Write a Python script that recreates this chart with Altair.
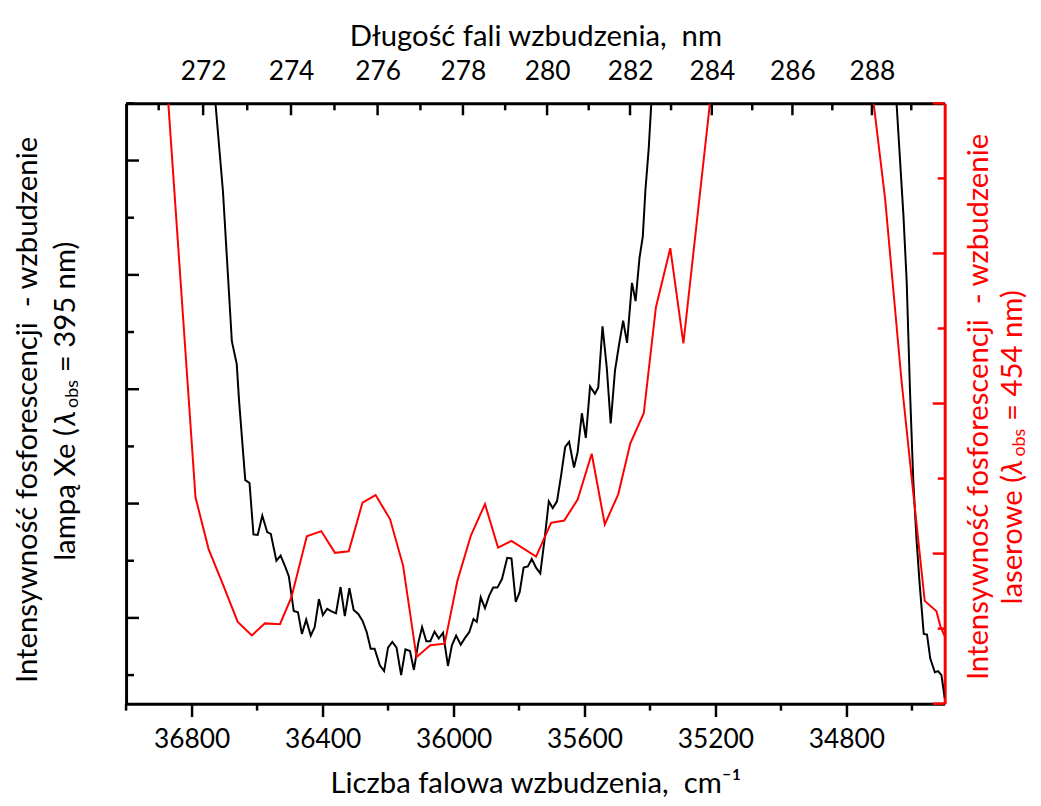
import altair as alt
import pandas as pd

# ---- data ----
# Black: Xe-lamp excitation (left axis, arbitrary units)
BLACK_A_WN = [36727, 36704, 36677, 36662, 36655, 36636, 36623, 36611, 36598, 36584,
              36569, 36558, 36541, 36528, 36515, 36503, 36488, 36475, 36463, 36450,
              36436, 36424, 36411, 36399, 36386, 36374, 36359, 36345, 36332, 36318,
              36305, 36291, 36278, 36265, 36253, 36241, 36225, 36212, 36200, 36187,
              36174, 36160, 36147, 36133, 36121, 36108, 36096, 36083, 36071, 36058,
              36045, 36032, 36017, 36005, 35992, 35978, 35965, 35952, 35939, 35929,
              35917, 35904, 35891, 35879, 35866, 35852, 35836, 35823, 35810, 35798,
              35786, 35773, 35761, 35748, 35735, 35722, 35709, 35697, 35684, 35672,
              35659, 35647, 35632, 35621, 35608, 35596, 35583, 35568, 35558, 35545,
              35532, 35520, 35507, 35495, 35482, 35470, 35455, 35444, 35432, 35422,
              35414, 35404, 35396]
BLACK_A_I = [10.0, 8.45, 5.84, 5.44, 4.80, 3.41, 3.36, 2.46, 2.45, 2.79,
             2.50, 2.47, 2.00, 2.09, 1.91, 1.73, 1.12, 1.10, 0.72, 0.97,
             0.69, 0.84, 1.33, 1.05, 1.16, 1.12, 1.08, 1.54, 1.03, 1.52,
             1.14, 1.07, 0.95, 0.75, 0.46, 0.46, 0.17, 0.07, 0.48, 0.58,
             0.48, 0.0, 0.45, 0.42, 0.09, 0.55, 0.84, 0.59, 0.59, 0.76,
             0.64, 0.74, 0.16, 0.52, 0.69, 0.53, 0.65, 0.75, 0.98, 0.93,
             1.36, 1.17, 1.39, 1.53, 1.53, 1.68, 2.05, 2.04, 1.28, 1.45,
             1.88, 1.90, 2.03, 1.88, 1.78, 2.37, 3.04, 2.92, 3.04, 3.47,
             3.99, 4.08, 3.63, 3.90, 4.58, 4.15, 5.05, 4.92, 5.03, 6.10,
             5.38, 4.40, 5.32, 5.76, 6.20, 5.81, 6.86, 6.54, 7.30, 7.67,
             8.48, 9.20, 10.0]
BLACK_B_WN = [34647, 34626, 34616, 34606, 34596, 34586, 34576, 34564, 34554, 34544,
              34530, 34520, 34510, 34500]
BLACK_B_I = [10.0, 8.04, 6.88, 4.98, 3.41, 2.37, 1.56, 0.72, 0.71, 0.29,
             0.05, 0.07, 0.0, -0.4]

# Red: laser excitation (right axis, arbitrary units)
RED_A_WN = [36871, 36788, 36748, 36707, 36659, 36616, 36576, 36530, 36495, 36448,
            36404, 36362, 36320, 36278, 36238, 36194, 36154, 36113, 36071, 36027,
            35988, 35947, 35904, 35864, 35823, 35748, 35702, 35662, 35621, 35578,
            35538, 35497, 35460, 35419, 35382, 35338, 35298, 35217]
RED_A_I = [8.0, 2.75, 2.06, 1.62, 1.09, 0.91, 1.07, 1.06, 1.42, 2.23,
           2.30, 2.01, 2.03, 2.68, 2.78, 2.46, 1.84, 0.62, 0.78, 0.80,
           1.64, 2.24, 2.66, 2.08, 2.17, 1.96, 2.41, 2.44, 2.72, 3.33,
           2.39, 2.79, 3.47, 3.87, 5.28, 6.07, 4.80, 8.0]
RED_B_WN = [34717, 34682, 34632, 34596, 34561, 34525, 34513, 34500]
RED_B_I = [8.0, 6.73, 4.31, 2.81, 1.37, 1.23, 1.03, 0.90]

# axis ticks / labels
BOTTOM_MAJOR = [36800, 36400, 36000, 35600, 35200, 34800]
BOTTOM_MINOR = [37000, 36600, 36200, 35800, 35400, 35000, 34600]
TOP_NM_MAJOR = [272, 274, 276, 278, 280, 282, 284, 286, 288]
TOP_NM_MINOR = [271, 273, 275, 277, 279, 281, 283, 285, 287, 289]
LEFT_MAJOR = [1, 3, 5, 7, 9]
LEFT_MINOR = [0, 2, 4, 6, 8, 10]
RIGHT_MAJOR = [0, 2, 4, 6, 8]
RIGHT_MINOR = [1, 3, 5, 7]

TITLE_TOP = "Długość fali wzbudzenia,\u00a0 nm"
TITLE_BOTTOM = "Liczba falowa wzbudzenia,\u00a0 cm\u207b\u00b9"
LEFT_LINE1 = "Intensywność fosforescencji\u00a0 - wzbudzenie"
LEFT_LINE2 = ["lampą Xe (", "λ", "obs", "= 395 nm)"]
RIGHT_LINE1 = "Intensywność fosforescencji\u00a0 - wzbudzenie"
RIGHT_LINE2 = ["laserowe (", "λ", "obs", "= 454 nm)"]

# ---- styling ----
W, H = 825, 605
FONT = "Lato"
FS = 26.5      # tick labels
TFS = 29.5     # titles
SUB_FS = 18
RED = "#ff0000"

x_scale = alt.Scale(domain=[34500, 37000], reverse=True, nice=False, zero=False)
yb_scale = alt.Scale(domain=[-0.5, 10], nice=False, zero=False)
yr_scale = alt.Scale(domain=[0, 8], nice=False, zero=False)


def seg_frame(parts):
    rows = []
    for sid, (wn, iv) in enumerate(parts):
        for a, b in zip(wn, iv):
            rows.append({"wn": a, "val": b, "seg": sid})
    return pd.DataFrame(rows)


black_df = seg_frame([(BLACK_A_WN, BLACK_A_I), (BLACK_B_WN, BLACK_B_I)])
red_df = seg_frame([(RED_A_WN, RED_A_I), (RED_B_WN, RED_B_I)])

black = alt.Chart(black_df).mark_line(color="black", strokeWidth=2, clip=True).encode(
    x=alt.X("wn:Q", scale=x_scale, axis=alt.Axis(
        orient="bottom", values=BOTTOM_MAJOR, format="d", tickSize=13, tickWidth=2.5,
        tickColor="black", domainColor="black", domainWidth=3, labelFont=FONT,
        labelFontSize=FS, labelColor="black", labelPadding=10, labelFlush=False,
        grid=False, title=TITLE_BOTTOM, titleFont=FONT, titleFontSize=TFS,
        titleFontWeight="normal", titleColor="black", titlePadding=17)),
    y=alt.Y("val:Q", scale=yb_scale, axis=alt.Axis(
        orient="left", labels=False, ticks=False, domainColor="black",
        domainWidth=3, grid=False, title=None)),
    detail="seg:N",
)

red = alt.Chart(red_df).mark_line(color=RED, strokeWidth=2, clip=True).encode(
    x=alt.X("wn:Q", scale=x_scale, axis=None),
    y=alt.Y("val:Q", scale=yr_scale, axis=alt.Axis(
        orient="right", labels=False, ticks=False, domainColor=RED,
        domainWidth=3, grid=False, title=None)),
    detail="seg:N",
)

bottom_minor = alt.Chart(pd.DataFrame({"v": BOTTOM_MINOR})).mark_rule(
    color="black", strokeWidth=2.5).encode(
    x=alt.X("v:Q", scale=x_scale, axis=None), y=alt.value(H), y2=alt.value(H + 7))

top_major = alt.Chart(pd.DataFrame({"nm": TOP_NM_MAJOR})).transform_calculate(
    wn="1e7 / datum.nm").mark_rule(color="black", strokeWidth=2.5).encode(
    x=alt.X("wn:Q", scale=x_scale, axis=alt.Axis(
        orient="top", values=[1e7 / n for n in TOP_NM_MAJOR],
        labelExpr="round(1e7 / datum.value)", ticks=False, tickSize=0,
        domain=True, domainColor="black", domainWidth=3, labelFont=FONT,
        labelFontSize=FS, labelColor="black", labelPadding=18, labelFlush=False,
        grid=False, title=TITLE_TOP, titleFont=FONT, titleFontSize=TFS,
        titleFontWeight="normal", titleColor="black", titlePadding=7)),
    y=alt.value(0), y2=alt.value(12))

top_minor = alt.Chart(pd.DataFrame({"nm": TOP_NM_MINOR})).transform_calculate(
    wn="1e7 / datum.nm").mark_rule(color="black", strokeWidth=2.5).encode(
    x=alt.X("wn:Q", scale=x_scale, axis=None), y=alt.value(0), y2=alt.value(7))

left_major = alt.Chart(pd.DataFrame({"v": LEFT_MAJOR})).mark_rule(
    color="black", strokeWidth=2.5).encode(
    y=alt.Y("v:Q", scale=yb_scale, axis=None), x=alt.value(0), x2=alt.value(13))
left_minor = alt.Chart(pd.DataFrame({"v": LEFT_MINOR})).mark_rule(
    color="black", strokeWidth=2.5).encode(
    y=alt.Y("v:Q", scale=yb_scale, axis=None), x=alt.value(0), x2=alt.value(8))

right_major = alt.Chart(pd.DataFrame({"v": RIGHT_MAJOR})).mark_rule(
    color=RED, strokeWidth=2.5).encode(
    y=alt.Y("v:Q", scale=yr_scale, axis=None), x=alt.value(W - 12), x2=alt.value(W))
right_minor = alt.Chart(pd.DataFrame({"v": RIGHT_MINOR})).mark_rule(
    color=RED, strokeWidth=2.5).encode(
    y=alt.Y("v:Q", scale=yr_scale, axis=None), x=alt.value(W - 7), x2=alt.value(W))


def vtext(text, x, y, color, size=TFS, align="center", italic=False):
    return alt.Chart(pd.DataFrame({"t": [text]})).mark_text(
        angle=270, align=align, baseline="middle", font=FONT, fontSize=size,
        color=color, fontStyle="italic" if italic else "normal").encode(
        text="t:N", x=alt.value(x), y=alt.value(y))


def vtext_line(pieces, x, y0, color, widths):
    out = []
    y = y0
    for i, p in enumerate(pieces):
        if i == 1:
            out.append(vtext(p, x, y, color, align="left", italic=True))
        elif i == 2:
            out.append(vtext(p, x + 7, y, color, size=SUB_FS, align="left"))
        else:
            out.append(vtext(p, x, y, color, align="left"))
        y -= widths[i]
    return out


texts = [vtext(LEFT_LINE1, -99, 309, "black"), vtext(RIGHT_LINE1, 860, 306, RED)]
texts += vtext_line(LEFT_LINE2, -60, 461, "black", [136, 18, 36, 0])
texts += vtext_line(RIGHT_LINE2, 894, 505, RED, [131, 18, 36, 0])

chart = alt.layer(
    black, red, bottom_minor, top_major, top_minor,
    left_major, left_minor, right_major, right_minor, *texts
).resolve_scale(y="independent").resolve_axis(x="independent", y="independent").properties(
    width=W, height=H,
    autosize=alt.AutoSizeParams(type="none"),
    padding={"left": 119, "top": 93, "right": 89, "bottom": 98},
).configure_view(stroke=None).configure(background="white")

chart.save("out.html", embed_options={"renderer": "svg", "actions": False})
